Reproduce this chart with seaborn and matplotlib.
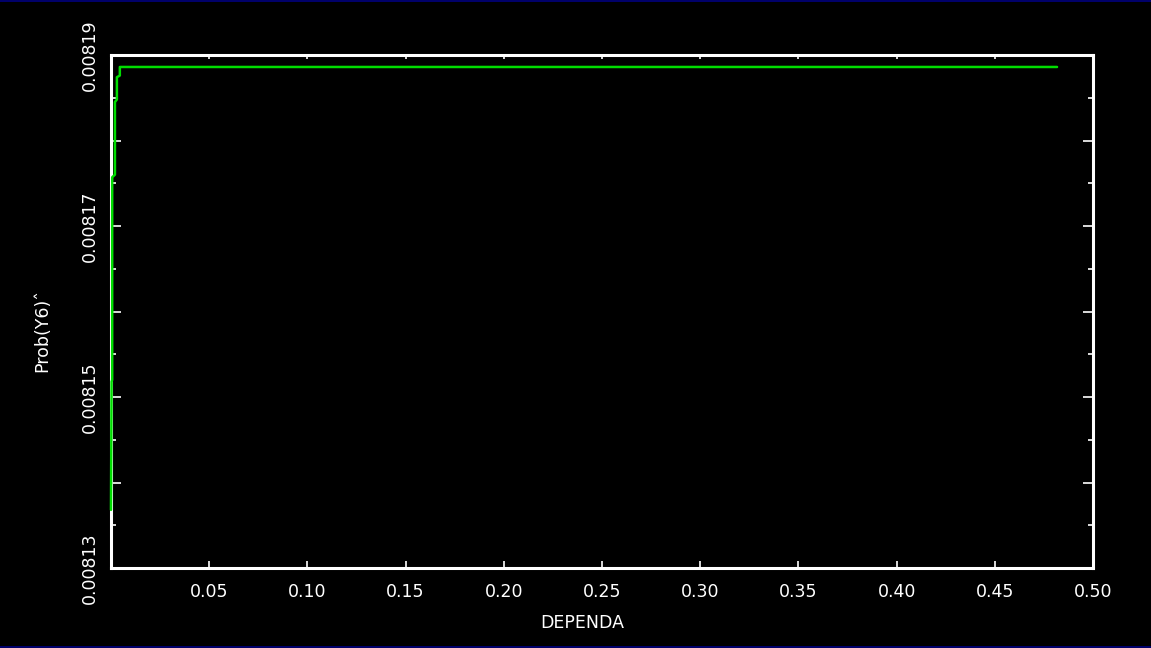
import matplotlib
matplotlib.use("Agg")
import matplotlib.pyplot as plt
from matplotlib.lines import Line2D
from matplotlib.ticker import MultipleLocator
import seaborn as sns

# Curve of Prob(Y6)^ against DEPENDA
dependa = [0.0, 0.0003, 0.0003, 0.0006, 0.0006, 0.0020, 0.0020, 0.0030, 0.0030, 0.0045, 0.0045, 0.4817]
prob_y6 = [0.0081368, 0.0081515, 0.0081518, 0.0081520, 0.0081757, 0.0081760, 0.0081845, 0.0081848, 0.0081874, 0.0081876, 0.0081886, 0.0081886]

x_ticks = [0.0, 0.05, 0.10, 0.15, 0.20, 0.25, 0.30, 0.35, 0.40, 0.45, 0.50]
x_tick_labels = ["", "0.05", "0.10", "0.15", "0.20", "0.25", "0.30", "0.35", "0.40", "0.45", "0.50"]
y_ticks = [0.00813, 0.00814, 0.00815, 0.00816, 0.00817, 0.00818, 0.00819]
y_tick_labels = ["0.00813", "", "0.00815", "", "0.00817", "", "0.00819"]

sns.set_style("dark", {"axes.facecolor": "black", "figure.facecolor": "black"})
plt.rcParams["font.family"] = ["DejaVu Sans"]

fig = plt.figure(figsize=(11.51, 6.48), dpi=100, facecolor="black")
ax = fig.add_axes([111 / 1151, 1 - 568 / 648, (1093 - 111) / 1151, (568 - 55) / 648])
ax.set_facecolor("black")

sns.lineplot(x=dependa, y=prob_y6, estimator=None, sort=False,
             color="#00dd00", linewidth=1.8, ax=ax, zorder=4)
for ln in ax.lines:
    ln.set_clip_on(False)

ax.set_xlim(0.0, 0.5)
ax.set_ylim(0.00813, 0.00819)

for s in ax.spines.values():
    s.set_color("white")
    s.set_linewidth(2.2)
    s.set_visible(True)
    s.set_zorder(3)

ax.set_xticks(x_ticks)
ax.set_xticklabels(x_tick_labels)
ax.set_yticks(y_ticks)
ax.set_yticklabels(y_tick_labels, rotation=90, va="center")
ax.yaxis.set_minor_locator(MultipleLocator(0.000005))

ax.tick_params(axis="x", which="major", direction="in", length=5, width=1.2,
               colors="white", labelsize=12.5, pad=11, top=True, bottom=True)
ax.tick_params(axis="y", which="major", direction="in", length=7, width=1.2,
               colors="white", labelsize=12.5, pad=9, left=True, right=True)
ax.tick_params(axis="y", which="minor", direction="in", length=3.5, width=1.2,
               colors="white", left=True, right=True)
# shorter ticks along the top edge
for t in ax.xaxis.get_major_ticks():
    t.tick2line.set_markersize(3)
ax.grid(False)

ax.set_xlabel("")
ax.set_ylabel("")
fig.text(582 / 1151, 1 - 623 / 648, "DEPENDA", color="white", fontsize=12.5,
         ha="center", va="center")
fig.text(42 / 1151, 1 - 330 / 648, "Prob(Y6)\u02c6", color="white", fontsize=12.5,
         ha="center", va="center", rotation=90)

# Thin navy edges along top and bottom of the canvas
fig.add_artist(Line2D([0, 1], [0.999, 0.999], color="#000080", lw=1.2, transform=fig.transFigure))
fig.add_artist(Line2D([0, 1], [0.001, 0.001], color="#000080", lw=1.2, transform=fig.transFigure))

fig.savefig("out.png", dpi=100, facecolor="black")
